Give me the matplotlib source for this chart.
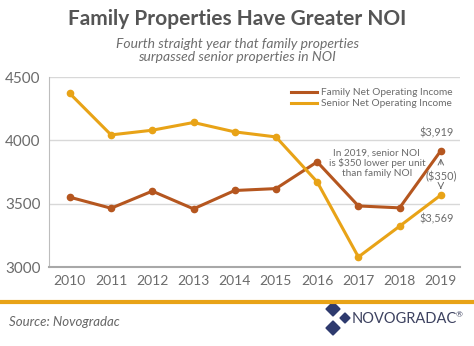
import matplotlib.pyplot as plt
from matplotlib.patches import Polygon

years = [2010, 2011, 2012, 2013, 2014, 2015, 2016, 2017, 2018, 2019]
family = [3552, 3465, 3600, 3460, 3605, 3620, 3831, 3483, 3468, 3919]
senior = [4371, 4044, 4081, 4142, 4068, 4028, 3673, 3080, 3323, 3569]
yticks = [3000, 3500, 4000, 4500]

fam_color = "#B5561F"
sen_color = "#E8A317"
gray = "#6b6b6b"

plt.rcParams['font.family'] = ['Lato', 'DejaVu Sans']

fig = plt.figure(figsize=(4.74, 3.46), dpi=100)
ax = fig.add_axes([0.103, 0.228, 0.867, 0.549])

ax.plot(years, family, color=fam_color, lw=2.2, marker='o', ms=4.5,
        label="Family Net Operating Income", zorder=3)
ax.plot(years, senior, color=sen_color, lw=2.2, marker='o', ms=4.5,
        label="Senior Net Operating Income", zorder=3)

ax.set_xlim(2009.49, 2019.46)
ax.set_ylim(3000, 4500)
ax.set_xticks(years)
ax.set_yticks(yticks)
ax.tick_params(length=0, labelsize=10, colors=gray, pad=6)
ax.tick_params(axis='y', labelsize=11, pad=6)
ax.grid(axis='y', color='#d8d8d8', lw=1)
for s in ['right', 'top']:
    ax.spines[s].set_visible(False)
ax.spines['left'].set_color('#bdbdbd')
ax.spines['bottom'].set_color('#a8a8a8')
ax.spines['bottom'].set_linewidth(1.5)

leg = ax.legend(loc='upper right', frameon=False, handlelength=2.6,
                labelspacing=0.2, borderaxespad=0.3, handletextpad=0.4,
                bbox_to_anchor=(1.0, 0.98), fontsize=7.3)
for line in leg.get_lines():
    line.set_marker('')
for t in leg.get_texts():
    t.set_color(gray)

ax.text(2019.32, 4058, "$3,919", ha='right', va='center', fontsize=7.8, color=gray)
ax.text(2019.32, 3378, "$3,569", ha='right', va='center', fontsize=7.8, color=gray)
ax.text(2019.0, 3712, "($350)", ha='center', va='center', fontsize=7.8, color=gray)
ax.annotate("", xy=(2019.0, 3880), xytext=(2019.0, 3790),
            arrowprops=dict(arrowstyle='->', color=gray, lw=0.7))
ax.annotate("", xy=(2019.0, 3595), xytext=(2019.0, 3645),
            arrowprops=dict(arrowstyle='->', color=gray, lw=0.7))
ax.text(2017.45, 3820, "In 2019, senior NOI\nis $350 lower per unit\nthan family NOI",
        ha='center', va='center', fontsize=7.2, color=gray, linespacing=1.05)

fig.text(0.5, 0.945, "Family Properties Have Greater NOI", ha='center', va='center',
         fontsize=15, fontweight='bold', color='#555555')
fig.text(0.5, 0.855, "Fourth straight year that family properties\nsurpassed senior properties in NOI",
         ha='center', va='center', fontsize=10, style='italic', color='#6e6e6e',
         linespacing=1.1)

fig.add_artist(plt.Line2D([0, 1], [0.127, 0.127], color=sen_color, lw=3,
                          transform=fig.transFigure))
fig.text(0.02, 0.07, "Source: Novogradac", ha='left', va='center', fontsize=9.5,
         style='italic', color='#666666')

navy = "#2E3A6E"
def diamond(cx, cy, r):
    w = r / 474
    h = r / 346
    return Polygon([(cx, cy + h), (cx + w, cy), (cx, cy - h), (cx - w, cy)],
                   closed=True, transform=fig.transFigure, color=navy)
fig.add_artist(diamond(333 / 474, 1 - 309 / 346, 7))
fig.add_artist(diamond(345 / 474, 1 - 318 / 346, 5))
fig.add_artist(diamond(333 / 474, 1 - 328 / 346, 7))
fig.text(352 / 474, 1 - 319 / 346, "NOVOGRADAC", ha='left', va='center',
         fontsize=10.5, color='#3d4260')
fig.text(456 / 474, 1 - 315 / 346, "\u00ae", ha='left', va='center',
         fontsize=6, color='#3d4260')

fig.savefig("out.png", dpi=100)
